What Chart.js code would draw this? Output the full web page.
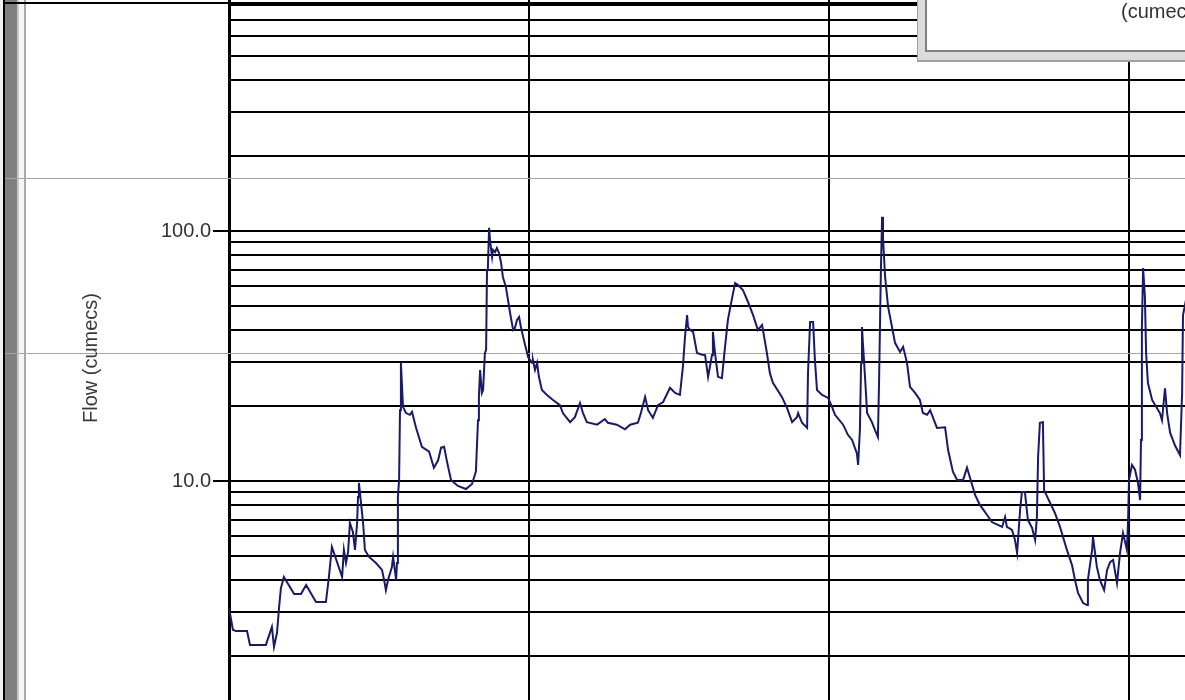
<!DOCTYPE html>
<html>
<head>
<meta charset="utf-8">
<title>Flow (cumecs)</title>
<script src="https://cdn.jsdelivr.net/npm/chart.js@4.4.1/dist/chart.umd.min.js"></script>
<style>
  html, body { margin: 0; padding: 0; background: #fff; overflow: hidden; }
  #wrap { position: absolute; left: 0; top: 0; width: 1185px; height: 700px; }
</style>
</head>
<body>
<div id="wrap"><canvas id="grafico"></canvas></div>
<script>
// daily flow series (day number, cumecs)
const dias = [0,1.3,2.3,6,7,12.3,14.3,15,16,16.7,17.3,18.3,21.7,24,25.7,29,32.3,33.3,34.3,37.7,
  38.3,39,39.7,40.3,41.3,42,42.7,43,43.3,44,44.7,45.3,46.7,49,51,51.7,52.3,53,54.3,54.7,
  55.7,56,56.3,56.7,57,57.3,58,59,60.3,61,62.3,64.3,66.7,68.3,69.7,70.7,71.7,72.7,74,76.3,
  79,81,82.3,83,83.3,83.7,84.3,84.7,85.3,85.7,86,86.3,86.7,87,87.7,88,88.7,89.3,90,90.7,
  91.3,92.3,93,93.7,94.7,95.3,96,96.7,97.3,98.3,99.7,101,101.3,102,102.7,103.3,104.3,106,108,110.3,
  111.3,113.7,115.3,117,118,119.3,122.7,125.3,126.3,129.3,132,133.7,136.3,137.3,138.7,139.7,141.3,143,144.7,147,
  148.7,150.3,151.3,152,152.7,153,153.7,154.7,156,157.7,158.7,159.7,161,161.3,162,163,164.3,165.3,166.3,167.7,
  168.7,169.7,171.3,173,174.7,176.3,177.7,179.3,180.3,181.3,184.3,186,187.7,189.3,189.7,191,192.7,193,193.7,194.7,
  195.3,196,197.7,199.7,201,202,204.7,206.3,207.7,209.3,209.7,210.3,210.7,211,211.3,212,212.7,214.3,215.3,216.3,
  216.7,217.3,217.7,218,218.7,219.7,221,222,223.7,224.7,226,227,228.7,230.3,231.3,232.7,233.7,236,238.7,239.7,
  241.3,242.7,244.7,246,247,248.7,250.3,252.7,254.3,256.3,257.7,258.7,259.3,261,262,262.7,263.7,264.3,265.3,266.3,
  267.7,268.7,269.3,269.7,270.3,271.3,271.7,273.7,275.3,277,279.3,281,282,283,284.7,286,286.3,287.7,288,289.3,
  290.3,291.7,292.7,293.7,294.7,296,297,298,298.7,299.3,299.7,300,301,302,303,303.7,304,304.3,304.7,305.3,
  305.7,306.3,307.7,309.3,310.3,311,312,312.7,313.7,315.3,317,317.7,318,319];

const vazao = [3.11,2.54,2.51,2.51,2.21,2.21,2.61,2.17,2.47,3.13,3.73,4.13,3.53,3.53,3.84,3.28,3.28,4.13,5.45,4.13,
  5.30,4.70,5.20,6.79,6.25,5.30,6.79,8.63,9.82,8.17,6.79,5.30,4.97,4.70,4.41,4.02,3.66,4.02,4.53,4.97,
  4.02,4.70,8.63,10.1,19.2,29.7,19.8,18.7,18.4,18.9,16.4,13.7,13.1,11.3,12.1,13.6,13.7,11.9,10.1,9.55,
  9.29,9.73,10.9,17.5,21.7,27.8,22.5,23.1,32.5,33.4,69.8,71.8,103,92.0,78.7,84.0,82.4,85.5,81.7,74.5,
  65.5,59.7,53.0,47.0,40.2,40.9,44.1,45.3,41.3,36.6,31.3,29.7,30.5,27.8,29.7,26.1,23.1,22.1,21.1,20.1,
  18.7,17.2,18.0,20.5,18.7,17.2,16.8,17.7,17.1,16.8,16.1,16.8,17.1,18.7,21.7,19.2,17.9,20.1,20.7,23.6,
  22.5,22.1,28.6,37.7,46.1,41.3,40.2,39.5,32.5,32.0,31.9,26.1,31.9,39.5,32.5,26.1,25.8,34.0,44.1,54.0,
  61.9,60.8,58.1,52.0,46.1,40.2,42.1,32.5,27.0,24.7,21.7,19.6,17.2,18.0,18.7,17.1,16.3,27.0,43.3,43.3,
  30.5,23.1,22.1,21.5,19.8,18.4,16.8,15.3,14.6,12.9,11.6,16.0,29.7,41.3,35.7,26.1,18.7,17.2,16.0,15.0,
  25.4,69.8,114,93.8,65.5,49.7,41.3,35.7,32.8,34.4,29.7,23.8,22.5,21.1,18.7,18.4,19.2,16.3,16.4,13.3,
  10.9,10.1,10.1,11.3,10.3,8.79,8.02,7.31,6.85,6.67,6.55,7.18,6.55,6.37,5.81,5.15,7.66,9.04,9.04,6.98,
  6.49,5.81,7.18,12.5,17.1,17.2,9.20,8.17,7.45,6.55,5.30,4.61,4.02,3.57,3.25,3.19,4.02,5.30,5.97,4.53,
  4.02,3.66,4.41,4.74,4.83,3.91,5.15,6.19,5.70,5.30,6.98,10.1,11.6,11.1,9.82,8.39,14.6,41.3,71.1,54.5,
  32.5,24.7,21.1,19.6,18.7,17.5,23.5,18.7,15.6,13.9,12.7,22.5,46.1,53.0];

// log gridlines and the two labelled values
const ticksY = [2,3,4,5,6,7,8,9,10,20,30,40,50,60,70,80,90,100,200,300,400,500,600,700,800];
const rotulosY = { 10: '10.0', 100: '100.0' };
const ticksX = [0, 100, 200, 300];

const tituloY = 'Flow (cumecs)';
const legendaTexto = '(cumecs)';

const fonte = '"Liberation Sans", Arial, sans-serif';

// frame, stray lines, legend box and y title
const moldura = {
  id: 'moldura',
  beforeDraw(chart) {
    const c = chart.ctx;
    const h = chart.height;
    c.save();
    c.fillStyle = '#fff';
    c.fillRect(0, 0, chart.width, h);
    c.fillStyle = '#f2f2f2'; c.fillRect(0, 0, 3, h);
    c.fillStyle = '#000'; c.fillRect(3, 0, 2, h);
    c.fillStyle = '#808080'; c.fillRect(5, 0, 12, h);
    c.fillStyle = '#c8c8c8'; c.fillRect(17, 0, 2, h);
    c.fillStyle = '#f6f6f6'; c.fillRect(19, 0, 5, h);
    c.fillStyle = '#a8a8a8'; c.fillRect(24, 0, 2, h);
    c.restore();
  },
  beforeDatasetsDraw(chart) {
    const c = chart.ctx;
    c.save();
    c.fillStyle = '#a6a6a6';
    c.fillRect(5, 178, chart.width, 1);
    c.fillRect(5, 353, chart.width, 1);
    c.restore();
  },
  afterDraw(chart) {
    const c = chart.ctx;
    c.save();
    // top border
    c.fillStyle = '#000';
    c.fillRect(3, 2, chart.width, 2);
    // legend box (cut by the window edge)
    c.fillStyle = '#a0a0a0'; c.fillRect(917, 0, 268, 62);
    c.fillStyle = '#dcdcdc'; c.fillRect(918, 0, 267, 60);
    c.fillStyle = '#808080'; c.fillRect(925, 0, 260, 52);
    c.fillStyle = '#fff'; c.fillRect(927, 0, 258, 50);
    c.fillStyle = '#333';
    c.font = '20px ' + fonte;
    c.textBaseline = 'middle';
    c.textAlign = 'left';
    c.fillText(legendaTexto, 1121, 12);
    // y axis title
    c.translate(91, 358);
    c.rotate(-Math.PI / 2);
    c.textAlign = 'center';
    c.fillStyle = '#3a3a3a';
    c.fillText(tituloY, 0, 0);
    c.restore();
  }
};

const pontos = dias.map((d, i) => ({ x: d, y: vazao[i] }));

new Chart(document.getElementById('grafico'), {
  type: 'line',
  data: {
    datasets: [{
      label: tituloY,
      data: pontos,
      borderColor: '#1a1a66',
      borderWidth: 2,
      pointRadius: 0,
      tension: 0,
      fill: false
    }]
  },
  options: {
    responsive: true,
    maintainAspectRatio: false,
    animation: false,
    devicePixelRatio: 1,
    layout: { padding: 0 },
    plugins: {
      legend: { display: false },
      tooltip: { enabled: false }
    },
    scales: {
      x: {
        type: 'linear',
        bounds: 'data',
        min: 0,
        max: (1185 - 229) / 3,
        afterBuildTicks(axis) { axis.ticks = ticksX.map(v => ({ value: v })); },
        afterFit(axis) { axis.height = 0; },
        ticks: { display: false },
        grid: { color: '#000', lineWidth: 2, drawTicks: false },
        border: { display: false }
      },
      y: {
        type: 'logarithmic',
        position: 'left',
        bounds: 'data',
        min: Math.pow(10, 1 - 219 / 250),
        max: Math.pow(10, 2 + 231 / 250),
        afterBuildTicks(axis) { axis.ticks = ticksY.map(v => ({ value: v })); },
        afterFit(axis) {
          axis.width = 229;
          axis.paddingTop = 0;
          axis.paddingBottom = 0;
        },
        ticks: {
          autoSkip: false,
          padding: 2,
          color: '#333',
          font: { family: fonte, size: 20 },
          callback: v => rotulosY[v] || ''
        },
        grid: {
          color: '#000',
          lineWidth: 2,
          tickLength: 16,
          tickWidth: 2,
          tickColor: ctx => (ctx.tick && rotulosY[ctx.tick.value]) ? '#000' : 'rgba(0,0,0,0)'
        },
        border: { display: true, color: '#000', width: 3 }
      }
    }
  },
  plugins: [moldura]
});
</script>
</body>
</html>
